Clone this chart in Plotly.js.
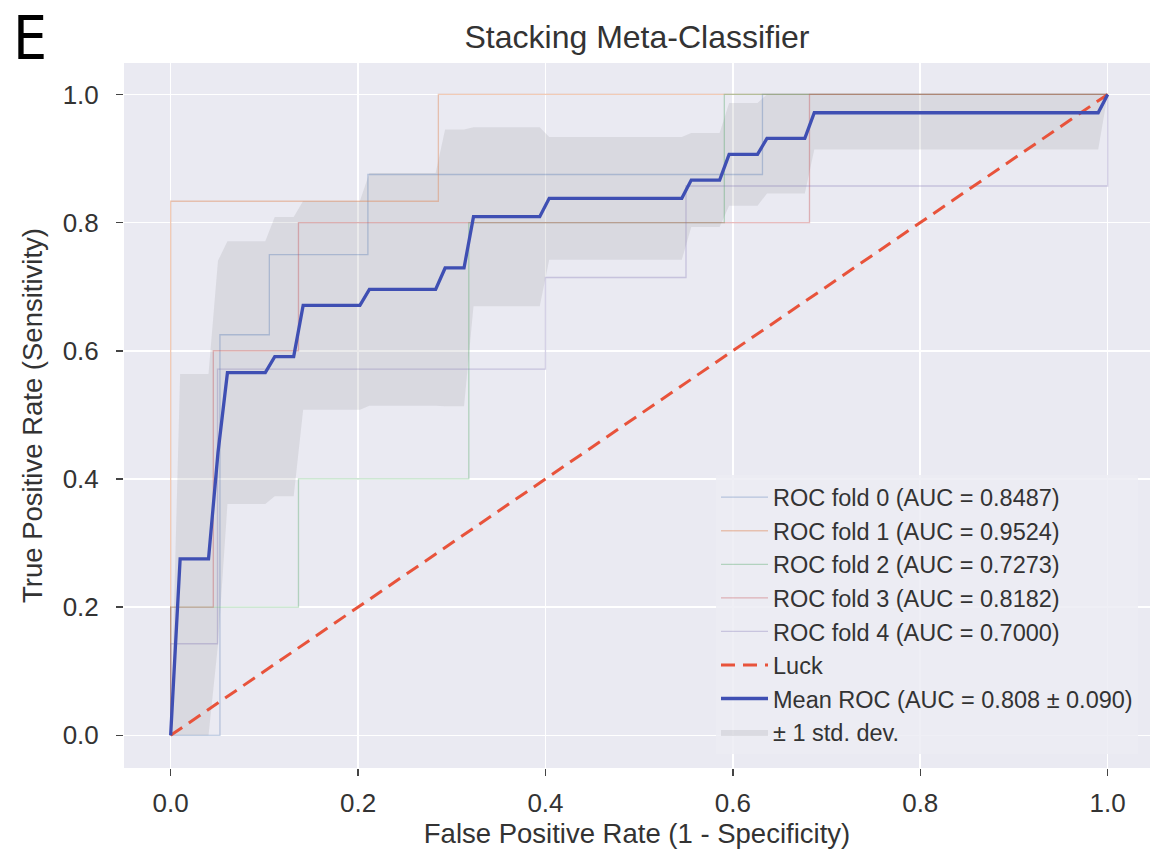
<!DOCTYPE html>
<html>
<head>
<meta charset="utf-8">
<script src="https://cdn.plot.ly/plotly-3.0.1.min.js"></script>
<style>
  html, body { margin: 0; padding: 0; background: #ffffff; }
  #chart { width: 1150px; height: 853px; }
</style>
</head>
<body>
<div id="chart"></div>
<script>
// ---- Per-fold ROC curves (FPR / TPR vertices) ----
const fold0Fpr = [0, 0.0526, 0.0526, 0.1053, 0.1053, 0.2105, 0.2105, 0.6316, 0.6316, 1.0];
const fold0Tpr = [0, 0, 0.625, 0.625, 0.75, 0.75, 0.875, 0.875, 1.0, 1.0];

const fold1Fpr = [0, 0, 0.2857, 0.2857, 1.0];
const fold1Tpr = [0, 0.8333, 0.8333, 1.0, 1.0];

const fold2Fpr = [0, 0, 0.1364, 0.1364, 0.3182, 0.3182, 0.5909, 0.5909, 1.0];
const fold2Tpr = [0, 0.2, 0.2, 0.4, 0.4, 0.8, 0.8, 1.0, 1.0];

const fold3Fpr = [0, 0, 0.0455, 0.0455, 0.1364, 0.1364, 0.6818, 0.6818, 1.0];
const fold3Tpr = [0, 0.2, 0.2, 0.6, 0.6, 0.8, 0.8, 1.0, 1.0];

const fold4Fpr = [0, 0, 0.05, 0.05, 0.4, 0.4, 0.55, 0.55, 1.0, 1.0];
const fold4Tpr = [0, 0.1429, 0.1429, 0.5714, 0.5714, 0.7143, 0.7143, 0.8571, 0.8571, 1.0];

// ---- Chance line ----
const luckFpr = [0, 1];
const luckTpr = [0, 1];

// ---- Mean ROC and ±1 std band (vertices) ----
const meanFpr = [0, 0.0101, 0.0404, 0.0505, 0.0606, 0.1010, 0.1111, 0.1313, 0.1414, 0.2020,
                 0.2121, 0.2828, 0.2929, 0.3131, 0.3232, 0.3939, 0.4040, 0.5455, 0.5556, 0.5859,
                 0.5960, 0.6263, 0.6364, 0.6768, 0.6869, 0.9899, 1.0];
const meanTpr = [0, 0.2752, 0.2752, 0.4409, 0.5658, 0.5658, 0.5908, 0.5908, 0.6708, 0.6708,
                 0.6958, 0.6958, 0.7292, 0.7292, 0.8092, 0.8092, 0.8378, 0.8378, 0.8664, 0.8664,
                 0.9064, 0.9064, 0.9314, 0.9314, 0.9714, 0.9714, 1.0];
const bandUpper = [0, 0.5636, 0.5636, 0.7405, 0.7708, 0.7708, 0.8086, 0.8086, 0.8336, 0.8336,
                   0.8774, 0.8774, 0.9451, 0.9451, 0.9489, 0.9489, 0.9336, 0.9336, 0.9397, 0.9397,
                   0.9867, 0.9867, 1.0, 1.0, 1.0, 1.0, 1.0];
const bandLower = [0, 0, 0, 0.1413, 0.3608, 0.3608, 0.3730, 0.3730, 0.5080, 0.5080,
                   0.5142, 0.5142, 0.5133, 0.5133, 0.6695, 0.6695, 0.7420, 0.7420, 0.7931, 0.7931,
                   0.8261, 0.8261, 0.8455, 0.8455, 0.9142, 0.9142, 1.0];

// ---- Labels ----
const foldNames = [
  'ROC fold 0 (AUC = 0.8487)',
  'ROC fold 1 (AUC = 0.9524)',
  'ROC fold 2 (AUC = 0.7273)',
  'ROC fold 3 (AUC = 0.8182)',
  'ROC fold 4 (AUC = 0.7000)'
];
const luckName = 'Luck';
const meanName = 'Mean ROC (AUC = 0.808 \u00b1 0.090)';
const bandName = '\u00b1 1 std. dev.';
const tickVals = [0, 0.2, 0.4, 0.6, 0.8, 1.0];
const tickText = ['0.0', '0.2', '0.4', '0.6', '0.8', '1.0'];

const foldColors = [
  'rgba(76,114,176,0.33)',
  'rgba(221,132,82,0.42)',
  'rgba(85,168,104,0.38)',
  'rgba(196,78,82,0.38)',
  'rgba(129,114,179,0.33)'
];

const foldX = [fold0Fpr, fold1Fpr, fold2Fpr, fold3Fpr, fold4Fpr];
const foldY = [fold0Tpr, fold1Tpr, fold2Tpr, fold3Tpr, fold4Tpr];

const traces = [];

// std band (drawn below lines)
traces.push({
  x: meanFpr, y: bandLower, type: 'scatter', mode: 'lines',
  line: { width: 0, color: 'rgba(0,0,0,0)' },
  showlegend: false, hoverinfo: 'skip', legendgroup: 'g8'
});
traces.push({
  x: meanFpr, y: bandUpper, type: 'scatter', mode: 'lines',
  fill: 'tonexty', fillcolor: 'rgba(150,150,155,0.2)',
  line: { width: 0, color: 'rgba(0,0,0,0)' },
  name: bandName, legendrank: 8, legendgroup: 'g8'
});

for (let i = 0; i < 5; i++) {
  traces.push({
    x: foldX[i], y: foldY[i], type: 'scatter', mode: 'lines',
    line: { color: foldColors[i], width: 1.3 },
    name: foldNames[i], legendrank: i + 1, legendgroup: 'g' + (i + 1)
  });
}

traces.push({
  x: luckFpr, y: luckTpr, type: 'scatter', mode: 'lines',
  line: { color: '#E8533B', width: 3, dash: '14px,8px' },
  name: luckName, legendrank: 6, legendgroup: 'g6'
});

traces.push({
  x: meanFpr, y: meanTpr, type: 'scatter', mode: 'lines',
  line: { color: '#3F4FB3', width: 3.3 },
  name: meanName, legendrank: 7, legendgroup: 'g7'
});

const fontFam = '"Liberation Sans", Arial, sans-serif';

const layout = {
  width: 1150, height: 853,
  margin: { l: 124, r: 0, t: 63, b: 85 },
  paper_bgcolor: '#ffffff',
  plot_bgcolor: '#EAEAF2',
  font: { family: fontFam, color: '#333333' },
  title: {
    text: 'Stacking Meta-Classifier',
    font: { family: fontFam, size: 32, color: '#333333' },
    x: 0.5, xref: 'paper', xanchor: 'center',
    y: 0.957, yref: 'container', yanchor: 'middle'
  },
  xaxis: {
    range: [-0.0498, 1.0452],
    tickvals: tickVals, ticktext: tickText,
    showgrid: true, gridcolor: '#ffffff', gridwidth: 1.6,
    zeroline: false, showline: false,
    ticks: 'outside', ticklen: 7, tickwidth: 1.5, tickcolor: '#444444',
    ticklabelstandoff: 5,
    tickfont: { family: fontFam, size: 26, color: '#333333' },
    title: { text: 'False Positive Rate (1 - Specificity)', font: { family: fontFam, size: 27.5, color: '#333333' }, standoff: 2 }
  },
  yaxis: {
    range: [-0.051, 1.049],
    tickvals: tickVals, ticktext: tickText,
    showgrid: true, gridcolor: '#ffffff', gridwidth: 1.6,
    zeroline: false, showline: false,
    ticks: 'outside', ticklen: 7, tickwidth: 1.5, tickcolor: '#444444',
    ticklabelstandoff: 12,
    tickfont: { family: fontFam, size: 26, color: '#333333' },
    title: { text: 'True Positive Rate (Sensitivity)', font: { family: fontFam, size: 27.5, color: '#333333' }, standoff: 12 }
  },
  legend: {
    x: 0.577, xanchor: 'left', y: 0.415, yanchor: 'top',
    bgcolor: 'rgba(236,236,243,0.85)', borderwidth: 0,
    font: { family: fontFam, size: 23.5, color: '#333333' },
    traceorder: 'grouped', tracegroupgap: 0,
    itemwidth: 47
  },
  annotations: [{
    text: 'E', xref: 'paper', yref: 'paper', x: -0.11, y: 1.0880,
    xanchor: 'left', yanchor: 'top', showarrow: false,
    font: { family: '"Liberation Sans Narrow", "DejaVu Sans Condensed", "Liberation Sans", sans-serif', size: 60, color: '#000000' }
  }],
  showlegend: true
};

Plotly.newPlot('chart', traces, layout, { displayModeBar: false, staticPlot: true });
</script>
</body>
</html>
